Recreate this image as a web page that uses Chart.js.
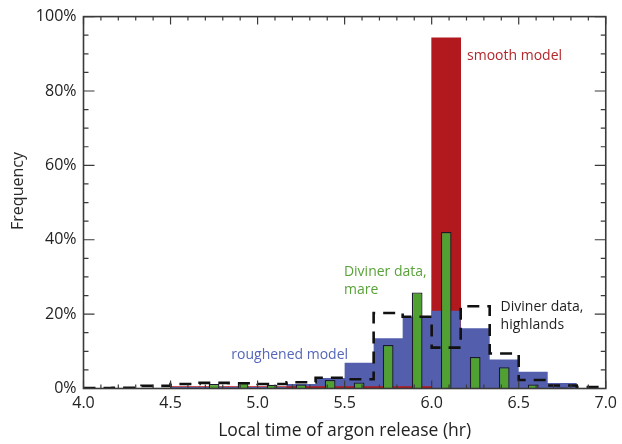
<!DOCTYPE html>
<html>
<head>
<meta charset="utf-8">
<script src="https://cdn.jsdelivr.net/npm/chart.js@4.4.0/dist/chart.umd.min.js"></script>
<style>
  body { margin: 0; background: #fff; }
  #wrap { width: 622px; height: 444px; }
</style>
</head>
<body>
<div id="wrap"><canvas id="grafArgon" width="622" height="444"></canvas></div>
<script>
// 10 minute bins, start of each bin in minutes after midnight (local time)
const binStartMin = [240, 250, 260, 270, 280, 290, 300, 310, 320, 330, 340, 350, 360, 370, 380, 390, 400, 410];
const binWidthMin = 10;

// frequency per bin, in %
const smoothModel    = [0, 0, 0, 0.5, 0.5, 0.5, 0.5, 0.5, 0.5, 0.5, 0.5, 0.5, 94.3, 0, 0, 0, 0, 0];
const roughenedModel = [0, 0, 0, 0.4, 0.4, 0.4, 0.4, 1.2, 2.8, 6.9, 13.5, 19.3, 20.9, 16.2, 7.8, 4.5, 1.5, 0];
const divinerMare    = [0, 0, 0, 0, 1.2, 1.6, 1.0, 1.1, 2.3, 1.6, 11.7, 25.8, 42.1, 8.5, 5.7, 1.1, 0.3, 0.2];
const divinerHigh    = [0.1, 0.2, 0.7, 1.2, 1.5, 1.4, 1.2, 1.7, 2.9, 2.5, 20.3, 19.3, 11.0, 22.1, 9.4, 2.3, 0.8, 0.4];

const xTickHr  = [4.0, 4.5, 5.0, 5.5, 6.0, 6.5, 7.0];
const yTickPct = [0, 20, 40, 60, 80, 100];

const FONT = "'Open Sans', 'DejaVu Sans', sans-serif";

const toHr = m => m / 60;
// bars sit on bin centres
const barPoints = vals => binStartMin.map((m, i) => ({x: toHr(m + binWidthMin / 2), y: vals[i]}));
// step lines start at left edges, plus a closing point on the last right edge
const stepPoints = vals => {
    const pts = binStartMin.map((m, i) => ({x: toHr(m), y: vals[i]}));
    const last = binStartMin.length - 1;
    pts.push({x: toHr(binStartMin[last] + binWidthMin), y: vals[last]});
    return pts;
};

// the smaller of smooth/roughened is drawn in front so both stay visible
const smoothBack  = smoothModel.map((v, i) => v >= roughenedModel[i] ? v : null);
const smoothFront = smoothModel.map((v, i) => v <  roughenedModel[i] ? v : null);

const frameAndText = {
    id: 'frameAndText',
    afterDatasetsDraw(chart) {
        const {ctx, chartArea: a, scales: {x, y}} = chart;
        ctx.save();
        ctx.strokeStyle = '#3a3a3a';
        ctx.lineWidth = 1.2;
        ctx.beginPath();
        for (let t = 40; t <= 70; t++) {
            const px = x.getPixelForValue(t / 10);
            const len = t % 5 === 0 ? 8 : 4;
            ctx.moveTo(px, a.bottom); ctx.lineTo(px, a.bottom - len);
            ctx.moveTo(px, a.top);    ctx.lineTo(px, a.top + len);
        }
        for (let v = 0; v <= 100; v += 5) {
            const py = y.getPixelForValue(v);
            const len = v % 20 === 0 ? 11 : 5;
            ctx.moveTo(a.left, py);  ctx.lineTo(a.left + len, py);
            ctx.moveTo(a.right, py); ctx.lineTo(a.right - len, py);
        }
        ctx.stroke();
        ctx.lineWidth = 1.6;
        ctx.strokeRect(a.left, a.top, a.right - a.left, a.bottom - a.top);

        // labels on the plot
        const notes = [
            {t: 'smooth model',    x: 6.203, y: 89.5, c: '#b5262b'},
            {t: 'Diviner data,',   x: 5.496, y: 31.3, c: '#5aa23a'},
            {t: 'mare',            x: 5.496, y: 26.5, c: '#5aa23a'},
            {t: 'Diviner data,',   x: 6.396, y: 21.9, c: '#1e1e1e'},
            {t: 'highlands',       x: 6.396, y: 17.2, c: '#1e1e1e'},
            {t: 'roughened model', x: 4.849, y: 9.0,  c: '#5566b8'}
        ];
        ctx.font = '14px ' + FONT;
        ctx.textAlign = 'left';
        ctx.textBaseline = 'middle';
        notes.forEach(n => {
            ctx.fillStyle = n.c;
            ctx.fillText(n.t, x.getPixelForValue(n.x), y.getPixelForValue(n.y));
        });

        // y axis title
        ctx.translate(18, 191);
        ctx.rotate(-Math.PI / 2);
        ctx.font = '16px ' + FONT;
        ctx.fillStyle = '#2a2a2a';
        ctx.textAlign = 'center';
        ctx.fillText('Frequency', 0, 0);
        ctx.restore();
    }
};

new Chart(document.getElementById('grafArgon'), {
    type: 'bar',
    data: {
        datasets: [
            {
                type: 'line',
                label: 'Diviner data, highlands',
                data: stepPoints(divinerHigh),
                stepped: true,
                borderColor: '#111',
                borderWidth: 2.6,
                borderDash: [12, 8],
                pointRadius: 0,
                fill: false,
                order: 1
            },
            {
                label: 'Diviner data, mare',
                data: barPoints(divinerMare),
                backgroundColor: '#50a032',
                borderColor: '#1a1a2a',
                borderWidth: 1.3,
                barPercentage: 0.37,
                categoryPercentage: 1,
                grouped: false,
                order: 2
            },
            {
                label: 'smooth model',
                data: barPoints(smoothFront),
                backgroundColor: '#b2191e',
                barPercentage: 1,
                categoryPercentage: 1,
                grouped: false,
                order: 3
            },
            {
                type: 'line',
                label: 'roughened model',
                data: stepPoints(roughenedModel),
                stepped: true,
                backgroundColor: '#535fad',
                borderWidth: 0,
                pointRadius: 0,
                fill: 'origin',
                order: 4
            },
            {
                label: 'smooth model (back)',
                data: barPoints(smoothBack),
                backgroundColor: '#b2191e',
                barPercentage: 1,
                categoryPercentage: 1,
                grouped: false,
                order: 5
            }
        ]
    },
    options: {
        responsive: false,
        animation: false,
        layout: { padding: { top: 16, right: 14, left: 0, bottom: 0 } },
        plugins: {
            legend: { display: false },
            tooltip: { enabled: false }
        },
        scales: {
            x: {
                type: 'linear',
                min: 4,
                max: 7,
                offset: false,
                grid: { display: false, drawTicks: false, offset: false },
                border: { display: false },
                afterBuildTicks: s => { s.ticks = xTickHr.map(v => ({value: v})); },
                afterFit: s => { s.height = 55.5; },
                ticks: {
                    padding: 5,
                    color: '#222',
                    font: { family: FONT, size: 16 },
                    callback: v => v.toFixed(1)
                },
                title: {
                    display: true,
                    text: 'Local time of argon release (hr)',
                    color: '#222',
                    font: { family: FONT, size: 17.5 },
                    padding: { top: 0, bottom: 2 }
                }
            },
            y: {
                min: 0,
                max: 100,
                grid: { display: false, drawTicks: false },
                border: { display: false },
                afterBuildTicks: s => { s.ticks = yTickPct.map(v => ({value: v})); },
                afterFit: s => { s.width = 83.5; },
                ticks: {
                    padding: 7,
                    color: '#222',
                    font: { family: FONT, size: 16 },
                    callback: v => v + '%'
                }
            }
        }
    },
    plugins: [frameAndText]
});
</script>
</body>
</html>
